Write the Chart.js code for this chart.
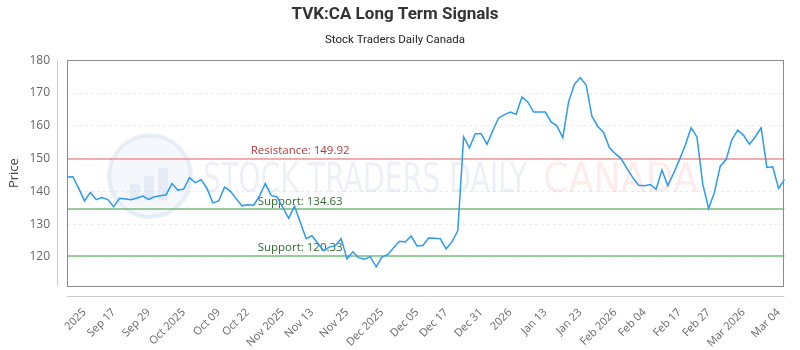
<!DOCTYPE html>
<html>
<head>
<meta charset="utf-8">
<script src="https://cdn.jsdelivr.net/npm/chart.js@4.4.1/dist/chart.umd.min.js"></script>
<style>
  html, body { margin: 0; padding: 0; background: #fff; }
  #wrap { width: 800px; height: 350px; }
</style>
</head>
<body>
<div id="wrap"><canvas id="chart"></canvas></div>
<script>
// daily closes
const prices = [
  144.4, 144.5, 141.0, 137.1, 139.7, 137.5, 138.1, 137.5, 135.3, 137.9,
  137.7, 137.5, 138.0, 138.6, 137.6, 138.4, 138.7, 139.0, 142.4, 140.4,
  140.7, 144.2, 142.7, 143.6, 140.9, 136.5, 137.1, 141.3, 140.1, 137.8,
  135.6, 135.9, 135.8, 138.6, 142.4, 138.8, 138.3, 135.1, 131.8, 135.5,
  130.6, 125.6, 126.5, 124.2, 121.9, 123.1, 123.4, 125.6, 119.4, 121.6,
  119.8, 119.3, 120.1, 117.0, 120.0, 120.8, 122.8, 124.8, 124.6, 126.4,
  123.4, 123.5, 125.8, 125.7, 125.6, 122.5, 124.6, 128.0, 156.6, 153.3,
  157.6, 157.6, 154.4, 158.5, 162.4, 163.4, 164.2, 163.5, 168.8, 167.3,
  164.2, 164.2, 164.2, 161.2, 160.0, 156.4, 167.3, 172.7, 174.7, 172.4,
  162.9, 159.8, 158.0, 153.3, 151.5, 150.0, 147.0, 144.2, 141.9, 141.7,
  142.1, 140.7, 146.5, 141.8, 145.5, 149.7, 154.1, 159.4, 156.6, 142.2,
  134.8, 139.7, 147.7, 149.7, 155.8, 158.7, 157.1, 154.4, 156.6, 159.4,
  147.3, 147.5, 140.9, 143.6
];

const tickLabels = [
  "2025", "Sep 17", "Sep 29", "Oct 2025", "Oct 09", "Oct 22", "Nov 2025", "Nov 13",
  "Nov 25", "Dec 2025", "Dec 05", "Dec 17", "Dec 31", "2026", "Jan 13", "Jan 23",
  "Feb 2026", "Feb 04", "Feb 17", "Feb 27", "Mar 2026", "Mar 04"
];
// which trading day each tick label sits on
const tickIndex = [3, 8, 14, 20, 26, 31, 37, 42, 48, 54, 60, 65, 71, 76, 82, 88, 94, 99, 105, 110, 116, 122];

const levelValues = [149.92, 134.63, 120.33];
const levelNames = ["Resistance", "Support", "Support"];

const yMin = 111.17;
const yMax = 180;

const labels = prices.map((_, i) => {
  const k = tickIndex.indexOf(i);
  return k >= 0 ? tickLabels[k] : "";
});

// faint logo + brand text behind the line
const watermark = {
  id: "watermark",
  beforeDatasetsDraw(chart) {
    const { ctx, chartArea: a } = chart;
    ctx.save();
    const cx = a.left + 83, cy = a.top + 116;
    ctx.beginPath();
    ctx.arc(cx, cy, 41, 0, Math.PI * 2);
    ctx.fillStyle = "rgba(215,228,245,0.28)";
    ctx.fill();
    ctx.lineWidth = 4;
    ctx.strokeStyle = "rgba(200,215,235,0.38)";
    ctx.stroke();
    ctx.fillStyle = "rgba(190,205,228,0.28)";
    [[-20, 8, 10, 16], [-6, 0, 10, 24], [8, -8, 10, 32]].forEach(([dx, dy, w, h]) => {
      ctx.fillRect(cx + dx, cy + dy, w, h);
    });

    ctx.font = '40px "Liberation Sans Narrow", "DejaVu Sans Condensed", sans-serif';
    ctx.textBaseline = "alphabetic";
    const drawFit = (text, x, w, color) => {
      const m = ctx.measureText(text).width;
      ctx.save();
      ctx.translate(x, a.top + 132);
      ctx.scale(w / m, 1);
      ctx.fillStyle = color;
      ctx.fillText(text, 0, 0);
      ctx.restore();
    };
    drawFit("STOCK TRADERS DAILY", a.left + 136, 324, "rgba(195,208,228,0.30)");
    drawFit("CANADA", a.left + 476, 155, "rgba(250,175,175,0.24)");
    ctx.restore();
  }
};

// resistance / support lines with their labels
const levels = {
  id: "levels",
  beforeDatasetsDraw(chart) {
    const { ctx, chartArea: a, scales: { y } } = chart;
    levelValues.forEach((v, i) => {
      const py = y.getPixelForValue(v);
      const res = levelNames[i] === "Resistance";
      ctx.save();
      ctx.strokeStyle = res ? "rgba(235,120,120,0.6)" : "rgba(100,175,100,0.65)";
      ctx.lineWidth = 2;
      ctx.beginPath();
      ctx.moveTo(a.left, py);
      ctx.lineTo(a.right, py);
      ctx.stroke();
      ctx.fillStyle = res ? "#b03a3a" : "#2f6b2f";
      ctx.font = '11.5px "Open Sans", sans-serif';
      ctx.textAlign = "center";
      ctx.textBaseline = "bottom";
      ctx.fillText(levelNames[i] + ": " + v.toFixed(2), a.left + a.width * 0.325, py - 2);
      ctx.restore();
    });
  }
};

// plot box plus the detached axis lines
const frame = {
  id: "frame",
  afterDraw(chart) {
    const { ctx, chartArea: a } = chart;
    ctx.save();
    ctx.lineWidth = 1;
    ctx.strokeStyle = "#8a8a8a";
    ctx.strokeRect(Math.round(a.left) + 0.5, Math.round(a.top) + 0.5,
      Math.round(a.width) - 1, Math.round(a.height));
    ctx.strokeStyle = "#cccccc";
    ctx.beginPath();
    ctx.moveTo(Math.round(a.left) - 9.5, a.top);
    ctx.lineTo(Math.round(a.left) - 9.5, a.bottom);
    ctx.moveTo(a.left, Math.round(a.bottom) + 10.5);
    ctx.lineTo(a.right, Math.round(a.bottom) + 10.5);
    ctx.stroke();
    ctx.restore();
  }
};

new Chart(document.getElementById("chart"), {
  type: "line",
  data: {
    labels,
    datasets: [{
      data: prices,
      borderColor: "#2b9af3",
      borderWidth: 1.5,
      pointRadius: 0,
      tension: 0,
      fill: false
    }]
  },
  plugins: [watermark, levels, frame],
  options: {
    responsive: true,
    maintainAspectRatio: false,
    animation: false,
    layout: { padding: { left: 0, right: 10, top: 0, bottom: 0 } },
    plugins: {
      legend: { display: false },
      tooltip: { enabled: false },
      title: {
        display: true,
        text: "TVK:CA Long Term Signals",
        color: "#333",
        font: { family: "Roboto, sans-serif", size: 17, weight: "bold" },
        padding: { top: 5, bottom: 8 }
      },
      subtitle: {
        display: true,
        text: "Stock Traders Daily Canada",
        color: "#222",
        font: { family: "Roboto, sans-serif", size: 11.5 },
        padding: { top: 0, bottom: 13 }
      }
    },
    scales: {
      x: {
        type: "category",
        offset: false,
        grid: { display: false },
        border: { display: false },
        afterFit(scale) { scale.height = 64; },
        ticks: {
          autoSkip: false,
          minRotation: 45,
          maxRotation: 45,
          padding: 12,
          color: "#666",
          font: { family: '"Open Sans", sans-serif', size: 11 },
          callback(val, i) { return labels[i] || null; }
        }
      },
      y: {
        min: yMin,
        max: yMax,
        afterFit(scale) { scale.width = 67; },
        afterBuildTicks(scale) {
          scale.ticks = scale.ticks.filter(t => t.value % 10 === 0);
        },
        grid: { color: "#ebebeb", drawTicks: false },
        border: { display: false, dash: [3, 3] },
        title: {
          display: true,
          text: "Price",
          color: "#444",
          font: { family: '"Open Sans", sans-serif', size: 13 },
          padding: { top: 6, bottom: 0 }
        },
        ticks: {
          stepSize: 10,
          padding: 17,
          color: "#666",
          font: { family: '"Open Sans", sans-serif', size: 12 }
        }
      }
    }
  }
});
</script>
</body>
</html>
